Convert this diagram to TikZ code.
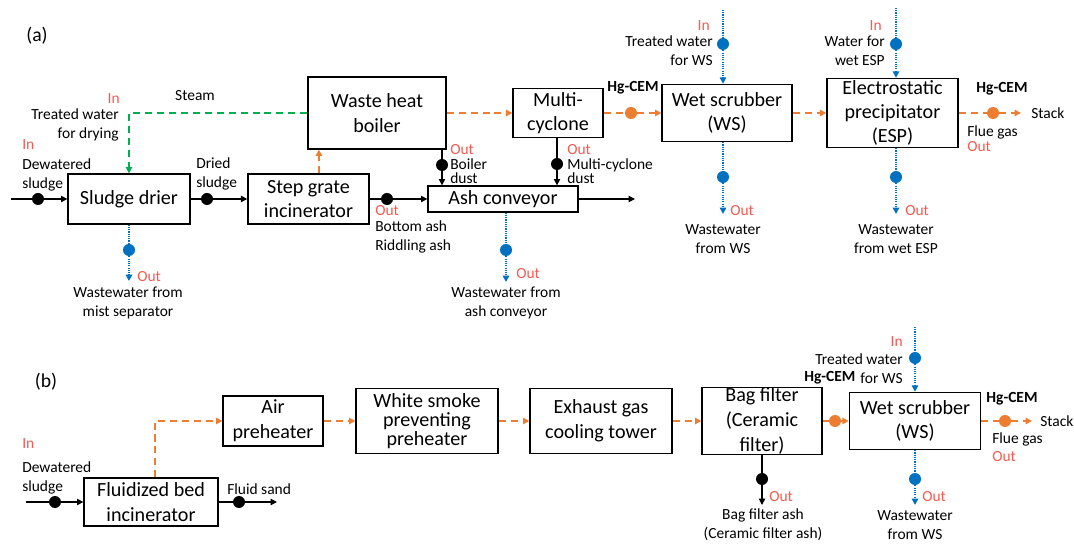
\documentclass[tikz,border=0pt]{standalone}
\usepackage{fontspec}
\setmainfont{Carlito}
\usetikzlibrary{arrows.meta,positioning}
\definecolor{gasor}{RGB}{237,125,49}
\definecolor{wblue}{RGB}{0,112,192}
\definecolor{stgreen}{RGB}{0,176,80}
\definecolor{inred}{RGB}{245,90,80}
\begin{document}
\begin{tikzpicture}[x=0.025cm,y=-0.025cm,
  box/.style={draw,line width=0.9pt,inner sep=0pt,align=center,font=\fontsize{14.3}{17.5}\selectfont},
  lbl/.style={inner sep=0pt,align=center,font=\fontsize{11}{13.5}\selectfont},
  tight/.style={lbl,font=\fontsize{11}{10}\selectfont},
  inlbl/.style={lbl,text=inred},
  cem/.style={lbl,font=\fontsize{11}{13.5}\selectfont\bfseries},
  tag/.style={lbl,font=\fontsize{14}{16}\selectfont},
  dot/.style={circle,fill,inner sep=0pt,minimum size=0.3cm},
  tip/.style={-{Triangle[length=4.5pt,width=4.5pt]}},
  flow/.style={tip,line width=0.9pt},
  gasflow/.style={tip,gasor,line width=1.3pt,dash pattern=on 5pt off 3.5pt},
  steamflow/.style={stgreen,line width=1.3pt,dash pattern=on 5pt off 3.5pt,tip},
  waterflow/.style={tip,wblue,line width=1.3pt,dash pattern=on 0.8pt off 0.8pt}]

\useasboundingbox (0,0) rectangle (1074,544);

% (a) sludge drier + step grate incinerator
\node[tag] (tagA) at (37,36) {(a)};
\node[box,minimum width=3.05cm,minimum height=1.25cm] (drier) at (129,199) {Sludge drier};
\node[box,minimum width=3.03cm,minimum height=1.25cm] (grate) at (308.5,199) {Step grate\\incinerator};
\node[box,minimum width=3.45cm,minimum height=1.8cm] (boiler) at (377,113) {Waste heat\\boiler};
\node[box,minimum width=2.25cm,minimum height=1.23cm] (cyclone) at (558,113) {Multi-\\cyclone};
\node[box,minimum width=3.75cm,minimum height=0.65cm] (ash) at (503,199) {Ash conveyor};
\node[box,minimum width=3.25cm,minimum height=1.43cm] (wsa) at (727,113) {Wet scrubber\\(WS)};
\node[box,minimum width=3.28cm,minimum height=1.73cm,font=\fontsize{14.3}{17}\selectfont] (esp) at (892.5,113) {Electrostatic\\precipitator\\(ESP)};

\node[dot] (d1) at (38,199) {};
\node[dot] (d2) at (207,199) {};
\node[dot,gasor] (d3) at (631,113) {};
\node[dot,wblue] (d4) at (723,44) {};
\node[dot,wblue] (d5) at (723,177) {};
\node[dot,wblue] (d6) at (896,44) {};
\node[dot,wblue] (d7) at (896,177) {};
\node[dot,gasor] (d8) at (993,113) {};
\node[dot] (d9) at (387,199) {};
\node[dot] (d10) at (442,165) {};
\node[dot] (d11) at (557,164) {};
\node[dot,wblue] (d12) at (506,250) {};
\node[dot,wblue] (d13) at (129,250) {};

\coordinate (inA) at (11,199);
\coordinate (drWw) at (129,281);
\coordinate (ashOut) at (635,199);
\coordinate (ashWw) at (506,282);
\coordinate (wsTop) at (723,10);
\coordinate (wsOut) at (723,214);
\coordinate (espTop) at (896,8);
\coordinate (espOut) at (896,214);

\node[inlbl,anchor=west] (inDw) at (22,145) {In};
\node[lbl,anchor=west,align=left] (dwA) at (22,174.5) {Dewatered\\sludge};
\node[lbl] (steam) at (195,96) {Steam};
\node[inlbl,anchor=east] (inTd) at (120,99) {In};
\node[lbl,anchor=east,align=right] (tdA) at (119,125) {Treated water\\for drying};
\node[lbl,anchor=west,align=left] (dried) at (196,173.5) {Dried\\sludge};
\node[inlbl,anchor=west] (outMs) at (137,276.5) {Out};
\node[lbl] (msA) at (128,303) {Wastewater from\\mist separator};
\node[inlbl,anchor=west] (outBa) at (375,210.5) {Out};
\node[lbl,anchor=west,align=left] (baA) at (375,237) {Bottom ash\\Riddling ash};
\node[inlbl,anchor=west] (outBd) at (450,150) {Out};
\node[tight,anchor=west,align=left] (bdA) at (450,171) {Boiler\\dust};
\node[inlbl,anchor=west] (outCd) at (567,150) {Out};
\node[tight,anchor=west,align=left] (cdA) at (567,171) {Multi-cyclone\\dust};
\node[inlbl,anchor=west] (outAw) at (516,274) {Out};
\node[lbl] (awA) at (506,303) {Wastewater from\\ash conveyor};
\node[cem] (cem1) at (633,88) {Hg-CEM};
\node[inlbl,anchor=east] (inWs) at (710,26) {In};
\node[lbl,anchor=east,align=right] (twWs) at (713,50.5) {Treated water\\for WS};
\node[inlbl,anchor=west] (outWs) at (730,211) {Out};
\node[lbl] (wwWs) at (723,239) {Wastewater\\from WS};
\node[inlbl,anchor=east] (inEsp) at (882,26) {In};
\node[lbl,anchor=east,align=right] (wEsp) at (885,50.5) {Water for\\wet ESP};
\node[inlbl,anchor=west] (outEsp) at (905,211) {Out};
\node[lbl] (wwEsp) at (896,239) {Wastewater\\from wet ESP};
\node[cem] (cem2) at (1002,89) {Hg-CEM};
\node[lbl,anchor=west] (flueA) at (967,132) {Flue gas};
\node[inlbl,anchor=west] (outFa) at (967,147) {Out};
\node[lbl,anchor=west,inner xsep=0.25cm] (stackA) at (1021,113) {Stack};

\draw[flow] (inA) -- (d1) -- (drier);
\draw[steamflow] (boiler.west) -| (drier.north);
\draw[flow] (drier) -- (d2) -- (grate);
\draw[waterflow] (drier) -- (d13) -- (drWw);
\draw[gasflow] ([xshift=0.26cm]grate.north) -- ([xshift=0.26cm]grate.north |- boiler.south);
\draw[gasflow] (boiler) -- (cyclone);
\draw[gasflow] (cyclone) -- (d3) -- (wsa);
\draw[waterflow] (wsTop) -- (d4) -- (d4 |- wsa.north);
\draw[waterflow] (d5 |- wsa.south) -- (d5) -- (wsOut);
\draw[gasflow] (wsa) -- (esp);
\draw[waterflow] (espTop) -- (d6) -- (d6 |- esp.north);
\draw[waterflow] (d7 |- esp.south) -- (d7) -- (espOut);
\draw[gasflow] (esp) -- (d8) -- (stackA);
\draw[flow] (grate) -- (d9) -- (ash);
\draw[flow] (d10 |- boiler.south) -- (d10) -- (d10 |- ash.north);
\draw[flow] (d11 |- cyclone.south) -- (d11) -- (d11 |- ash.north);
\draw[flow] (ash) -- (ashOut);
\draw[waterflow] (d12 |- ash.south) -- (d12) -- (ashWw);

% (b) fluidized bed incinerator
\node[tag] (tagB) at (46,382) {(b)};
\node[box,minimum width=3.35cm,minimum height=1.2cm] (fbi) at (151,502) {Fluidized bed\\incinerator};
\node[box,minimum width=2.5cm,minimum height=1.25cm] (airph) at (273,421) {Air\\preheater};
\node[box,minimum width=3.55cm,minimum height=1.63cm,font=\fontsize{14.3}{13.4}\selectfont] (smoke) at (427,421) {White smoke\\preventing\\preheater};
\node[box,minimum width=3.55cm,minimum height=1.63cm] (cool) at (601,421) {Exhaust gas\\cooling tower};
\node[box,minimum width=3.0cm,minimum height=1.68cm] (bag) at (762,421) {Bag filter\\(Ceramic\\filter)};
\node[box,minimum width=3.28cm,minimum height=1.43cm] (wsb) at (915,421) {Wet scrubber\\(WS)};

\node[dot] (d14) at (55,502) {};
\node[dot] (d15) at (239,502) {};
\node[dot,gasor] (d16) at (835,421) {};
\node[dot] (d17) at (762,479) {};
\node[dot,wblue] (d18) at (915,358) {};
\node[dot,wblue] (d19) at (915,479) {};
\node[dot,gasor] (d20) at (1005,421) {};

\coordinate (inB) at (26,502);
\coordinate (sandOut) at (277,502);
\coordinate (bagOut) at (762,505);
\coordinate (wsbTop) at (915,327);
\coordinate (wsbOut) at (915,505);

\node[inlbl,anchor=west] (inDwB) at (22,444) {In};
\node[lbl,anchor=west,align=left] (dwB) at (22,477.5) {Dewatered\\sludge};
\node[lbl,anchor=west] (sand) at (227,489) {Fluid sand};
\node[inlbl,anchor=west] (outBf) at (769,497) {Out};
\node[lbl] (bfA) at (763,525) {Bag filter ash\\(Ceramic filter ash)};
\node[inlbl,anchor=east] (inWsB) at (903,342) {In};
\node[lbl,anchor=east,align=right] (twWsB) at (903,368.5) {Treated water\\for WS};
\node[cem,anchor=west] (cem3) at (804,378) {Hg-CEM};
\node[inlbl,anchor=west] (outWsB) at (922,497) {Out};
\node[lbl] (wwWsB) at (915,525) {Wastewater\\from WS};
\node[cem] (cem4) at (1012,399) {Hg-CEM};
\node[lbl,anchor=west] (flueB) at (992,439) {Flue gas};
\node[inlbl,anchor=west] (outFb) at (992,457) {Out};
\node[lbl,anchor=west,inner xsep=0.2cm] (stackB) at (1032,421) {Stack};

\draw[flow] (inB) -- (d14) -- (fbi);
\draw[flow] (fbi) -- (d15) -- (sandOut);
\draw[gasflow] ([xshift=0.1cm]fbi.north) |- (airph);
\draw[gasflow] (airph) -- (smoke);
\draw[gasflow] (smoke) -- (cool);
\draw[gasflow] (cool) -- (bag);
\draw[gasflow] (bag) -- (d16) -- (wsb);
\draw[flow] (bag) -- (d17) -- (bagOut);
\draw[waterflow] (wsbTop) -- (d18) -- (wsb);
\draw[waterflow] (wsb) -- (d19) -- (wsbOut);
\draw[gasflow] (wsb) -- (d20) -- (stackB);
\end{tikzpicture}
\end{document}
